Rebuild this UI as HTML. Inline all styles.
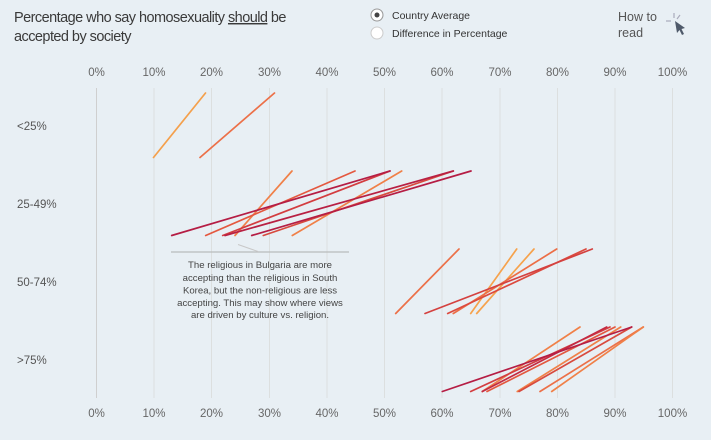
<!DOCTYPE html>
<html><head><meta charset="utf-8">
<style>
html,body{margin:0;padding:0;background:#e8eff4;}
body{width:711px;height:440px;overflow:hidden;position:relative;font-family:"Liberation Sans",sans-serif;}
svg{position:absolute;left:0;top:0;}
</style></head>
<body>
<svg width="711" height="440" viewBox="0 0 711 440" xmlns="http://www.w3.org/2000/svg">
<rect width="711" height="440" fill="#e8eff4"/>
<!-- title -->
<text x="14" y="22" font-family="Liberation Sans, sans-serif" font-size="14.5" fill="#3a3a3a" letter-spacing="-0.55">Percentage who say homosexuality <tspan text-decoration="underline">should</tspan> be</text>
<text x="14" y="41" font-family="Liberation Sans, sans-serif" font-size="14.5" fill="#3a3a3a" letter-spacing="-0.55">accepted by society</text>
<!-- legend -->
<circle cx="377" cy="15" r="6" fill="#fff" stroke="#999" stroke-width="1"/>
<circle cx="377" cy="15" r="2.5" fill="#444"/>
<text x="392" y="19" font-size="10.5" fill="#333">Country Average</text>
<circle cx="377" cy="33" r="6" fill="#fff" stroke="#ccc" stroke-width="1"/>
<text x="392" y="37" font-size="10.5" fill="#333">Difference in Percentage</text>
<!-- how to read -->
<text x="618" y="21" font-size="12.5" fill="#555">How to</text>
<text x="618" y="37" font-size="12.5" fill="#555">read</text>
<g stroke="#aab" stroke-width="1.2">
<line x1="666" y1="21" x2="671" y2="21"/>
<line x1="674" y1="13" x2="674" y2="18"/>
<line x1="680" y1="15" x2="677" y2="19"/>
</g>
<path d="M675 21 L677 33 L679.5 30 L682 35 L684 34 L681.5 29 L685 28 Z" fill="#4f5a6a"/>
<!-- gridlines -->
<g stroke="#dcdfdf" stroke-width="1">
<line x1="154" y1="88" x2="154" y2="398"/>
<line x1="211.5" y1="88" x2="211.5" y2="398"/>
<line x1="269.5" y1="88" x2="269.5" y2="398"/>
<line x1="327" y1="88" x2="327" y2="398"/>
<line x1="384.5" y1="88" x2="384.5" y2="398"/>
<line x1="442" y1="88" x2="442" y2="398"/>
<line x1="500" y1="88" x2="500" y2="398"/>
<line x1="557.5" y1="88" x2="557.5" y2="398"/>
<line x1="615" y1="88" x2="615" y2="398"/>
<line x1="672.5" y1="88" x2="672.5" y2="398"/>
</g>
<line x1="96.5" y1="88" x2="96.5" y2="398" stroke="#cfcfcf" stroke-width="1"/>
<!-- axis labels -->
<g font-size="11.5" fill="#666" text-anchor="middle">
<text x="96.5" y="76">0%</text><text x="154" y="76">10%</text><text x="211.5" y="76">20%</text><text x="269.5" y="76">30%</text><text x="327" y="76">40%</text><text x="384.5" y="76">50%</text><text x="442" y="76">60%</text><text x="500" y="76">70%</text><text x="557.5" y="76">80%</text><text x="615" y="76">90%</text><text x="672.5" y="76">100%</text>
<text x="96.5" y="417">0%</text><text x="154" y="417">10%</text><text x="211.5" y="417">20%</text><text x="269.5" y="417">30%</text><text x="327" y="417">40%</text><text x="384.5" y="417">50%</text><text x="442" y="417">60%</text><text x="500" y="417">70%</text><text x="557.5" y="417">80%</text><text x="615" y="417">90%</text><text x="672.5" y="417">100%</text>
</g>
<g font-size="11.5" fill="#555">
<text x="17" y="130">&lt;25%</text>
<text x="17" y="208">25-49%</text>
<text x="17" y="286">50-74%</text>
<text x="17" y="364">&gt;75%</text>
</g>
<!-- annotation -->
<line x1="171" y1="252" x2="349" y2="252" stroke="#b9bcbc" stroke-width="1.2"/>
<line x1="238" y1="244.5" x2="258" y2="251.5" stroke="#c8c8c8" stroke-width="1"/>
<g font-size="9.6" fill="#444" text-anchor="middle">
<text x="260" y="268">The religious in Bulgaria are more</text>
<text x="260" y="281">accepting than the religious in South</text>
<text x="260" y="293.5">Korea, but the non-religious are less</text>
<text x="260" y="306">accepting. This may show where views</text>
<text x="260" y="318">are driven by culture vs. religion.</text>
</g>
<!-- series -->
<g stroke-width="1.7" stroke-linecap="round" fill="none">
<!-- <25% -->
<line x1="153.5" y1="157.5" x2="205.5" y2="93" stroke="#f4a04c"/>
<line x1="200" y1="157.5" x2="274.5" y2="93" stroke="#ec7048"/>
<!-- 25-49% -->
<line x1="235" y1="235.5" x2="292" y2="171" stroke="#f08048"/>
<line x1="205.7" y1="235.5" x2="355" y2="171" stroke="#e4583f"/>
<line x1="222.7" y1="235.5" x2="390" y2="171" stroke="#d33d40"/>
<line x1="292.3" y1="235.5" x2="401.7" y2="171" stroke="#f08048"/>
<line x1="263.3" y1="235.5" x2="453.3" y2="171" stroke="#d84a3e"/>
<line x1="225" y1="235.5" x2="453.3" y2="171" stroke="#b82043"/>
<line x1="251.7" y1="235.5" x2="471" y2="171" stroke="#b51d44"/>
<line x1="171.7" y1="235.5" x2="390" y2="171" stroke="#b51d44"/>
<!-- 50-74% -->
<line x1="395.7" y1="313.5" x2="459" y2="249" stroke="#ec7048"/>
<line x1="470.7" y1="313.5" x2="516.7" y2="249" stroke="#f6a24c"/>
<line x1="476.7" y1="313.5" x2="534" y2="249" stroke="#f6a24c"/>
<line x1="453.3" y1="313.5" x2="556.7" y2="249" stroke="#ec6e46"/>
<line x1="447.7" y1="313.5" x2="586" y2="249" stroke="#dc4a3e"/>
<line x1="425" y1="313.5" x2="592.3" y2="249" stroke="#d4413f"/>
<!-- >75% -->
<line x1="482.3" y1="391.5" x2="580" y2="327" stroke="#f08048"/>
<line x1="517.3" y1="391.5" x2="620.7" y2="327" stroke="#f08048"/>
<line x1="540" y1="391.5" x2="643.3" y2="327" stroke="#ec7048"/>
<line x1="551.7" y1="391.5" x2="643.3" y2="327" stroke="#f08048"/>
<line x1="519" y1="391.5" x2="631.7" y2="327" stroke="#d84a3e"/>
<line x1="487" y1="391.5" x2="615" y2="327" stroke="#e4583f"/>
<line x1="470.7" y1="391.5" x2="610" y2="327" stroke="#d33d40"/>
<line x1="482.3" y1="391.5" x2="606.7" y2="327" stroke="#c42a42"/>
<line x1="442.3" y1="391.5" x2="631.7" y2="327" stroke="#b51d44"/>
</g>
</svg>
</body></html>
